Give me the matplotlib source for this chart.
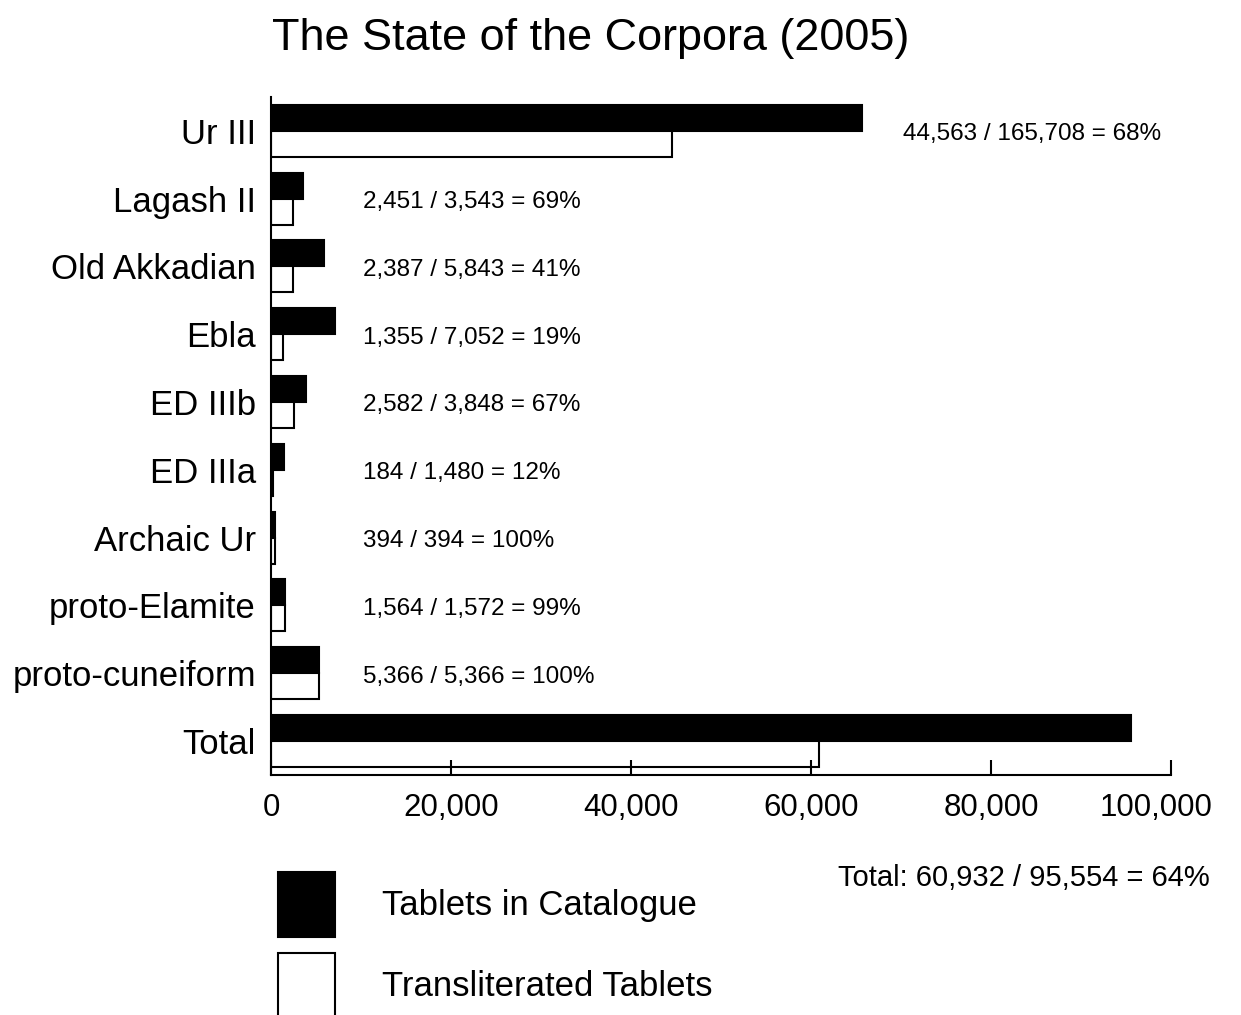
import matplotlib
matplotlib.use("Agg")
import matplotlib.pyplot as plt
import matplotlib.transforms as mtransforms
from matplotlib.ticker import FuncFormatter

plt.rcParams['font.family'] = ['Liberation Sans', 'DejaVu Sans']

# Data
periods = ["Ur III", "Lagash II", "Old Akkadian", "Ebla", "ED IIIb", "ED IIIa",
           "Archaic Ur", "proto-Elamite", "proto-cuneiform", "Total"]
catalogue = [65708, 3543, 5843, 7052, 3848, 1480, 394, 1572, 5366, 95554]
transliterated = [44563, 2451, 2387, 1355, 2582, 184, 394, 1564, 5366, 60932]
annotations = ["44,563 / 165,708 = 68%", "2,451 / 3,543 = 69%", "2,387 / 5,843 = 41%",
               "1,355 / 7,052 = 19%", "2,582 / 3,848 = 67%", "184 / 1,480 = 12%",
               "394 / 394 = 100%", "1,564 / 1,572 = 99%", "5,366 / 5,366 = 100%", None]
annot_x = [70200, 10200, 10200, 10200, 10200, 10200, 10200, 10200, 10200, None]
total_note = "Total: 60,932 / 95,554 = 64%"

fig = plt.figure(figsize=(12.41, 10.15), dpi=100)
ax = fig.add_axes([0.2184, 0.2365, 0.7252, 0.6680])

h = 0.383
ypos = list(range(len(periods)))
ax.barh([y - h / 2 for y in ypos], catalogue, height=h, color='black',
        edgecolor='black', linewidth=1.5, label='Tablets in Catalogue')
ax.barh([y + h / 2 for y in ypos], transliterated, height=h, color='white',
        edgecolor='black', linewidth=1.5, label='Transliterated Tablets')

for y, txt, xx in zip(ypos, annotations, annot_x):
    if txt:
        ax.text(xx, y + 0.05, txt, fontsize=17.5, va='center', ha='left')

ax.set_ylim(len(periods) - 0.5, -0.5)
ax.set_xlim(0, 100000)
ax.set_yticks(ypos)
ax.set_yticklabels(periods, fontsize=25)
ax.set_xticks(range(0, 100001, 20000))
ax.xaxis.set_major_formatter(FuncFormatter(lambda v, p: f"{int(v):,}"))
ax.tick_params(axis='x', direction='in', length=11, width=1.5, labelsize=22.5, pad=13)
ax.tick_params(axis='y', length=0, pad=11)

# last tick label sits a bit to the left in the original
last = ax.get_xticklabels()[-1]
last.set_transform(last.get_transform() +
                   mtransforms.ScaledTranslation(-0.15, 0, fig.dpi_scale_trans))

for s in ['top', 'right']:
    ax.spines[s].set_visible(False)
for s in ['left', 'bottom']:
    ax.spines[s].set_linewidth(1.5)

fig.text(0.2192, 0.962, "The State of the Corpora (2005)", fontsize=32.4, va='center', ha='left')
fig.text(0.975, 0.135, total_note, fontsize=21, va='center', ha='right')

fig.legend(loc='upper left', bbox_to_anchor=(0.224, 0.141), frameon=False,
           fontsize=25, handlelength=1.64, handleheight=2.5, handletextpad=1.36,
           labelspacing=0.46, borderpad=0, borderaxespad=0)

fig.savefig("out.png", dpi=100)
